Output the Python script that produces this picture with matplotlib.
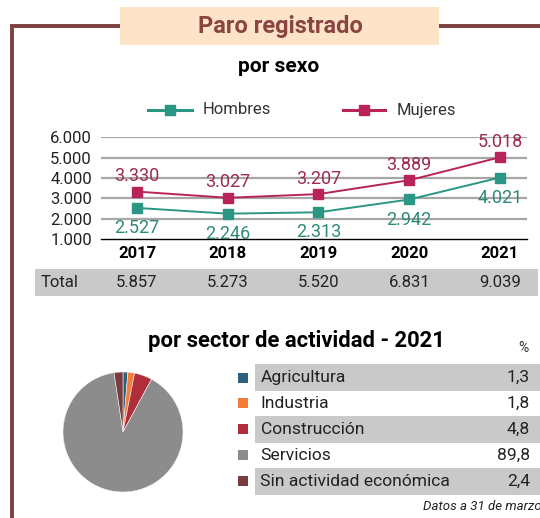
import numpy as np
import matplotlib
matplotlib.use("Agg")
import matplotlib.pyplot as plt
import matplotlib.transforms as mtransforms
from matplotlib.patches import Rectangle

plt.rcParams['font.family'] = ['Roboto', 'DejaVu Sans']

# ---- data ----
years = ['2017', '2018', '2019', '2020', '2021']
hombres = [2527, 2246, 2313, 2942, 4021]
mujeres = [3330, 3027, 3207, 3889, 5018]
totales = ['5.857', '5.273', '5.520', '6.831', '9.039']
y_ticks = [1000, 2000, 3000, 4000, 5000, 6000]

sectores = ['Agricultura', 'Industria', 'Construcción', 'Servicios',
            'Sin actividad económica']
porcentajes = [1.3, 1.8, 4.8, 89.8, 2.4]
sector_colors = ['#2d5f7e', '#f47d3a', '#b02e3a', '#8c8c8c', '#7b3c3f']

teal = '#2a9683'
crimson = '#b8245a'
brown = '#7d3f3f'
W, H = 540, 518


def fmt(v):
    return f"{v:,}".replace(',', '.')


fig = plt.figure(figsize=(W / 100, H / 100), dpi=100)

# background axes in pixel coords (frame, boxes, text)
bg = fig.add_axes([0, 0, 1, 1])
bg.set_xlim(0, W)
bg.set_ylim(H, 0)
bg.axis('off')

# frame
bg.plot([12, 12, 120], [H, 26, 26], color=brown, lw=2.8, solid_capstyle='butt',
        solid_joinstyle='miter')
bg.plot([439, W], [26, 26], color=brown, lw=2.8, solid_capstyle='butt')
bg.add_patch(Rectangle((120, 7), 319, 38, color='#fde4c9', lw=0))
bg.text(280, 26, 'Paro registrado', ha='center', va='center', fontsize=17,
        fontweight='bold', color='#8b4540')
bg.text(279, 67, 'por sexo', ha='center', va='center', fontsize=15,
        fontweight='bold', color='black')

# legend
bg.plot([148, 192], [110, 110], color=teal, lw=2.2)
bg.plot([170], [110], marker='s', ms=7, color=teal)
bg.text(203, 110, 'Hombres', ha='left', va='center', fontsize=12, color='#333333')
bg.plot([343, 385], [110, 110], color=crimson, lw=2.2)
bg.plot([364], [110], marker='s', ms=7, color=crimson)
bg.text(397, 110, 'Mujeres', ha='left', va='center', fontsize=12, color='#333333')

# ---- line chart ----
ax = fig.add_axes([101 / W, 1 - 239 / H, 426 / W, (239 - 137.3) / H])
ax.patch.set_alpha(0)
x = np.arange(len(years))
ax.set_xlim(-0.397, 4.298)
ax.set_ylim(1000, 6000)
for t in y_ticks[1:]:
    ax.axhline(t, color='#a6a6a6', lw=1.6, zorder=0)
for s in ['top', 'right', 'left']:
    ax.spines[s].set_visible(False)
ax.spines['bottom'].set_color('black')
ax.spines['bottom'].set_linewidth(1.0)
ax.set_yticks(y_ticks, [fmt(t) for t in y_ticks], fontsize=12, color='#222222')
ax.set_xticks(x, years, fontsize=12, fontweight='bold')
ax.tick_params(axis='y', length=0, pad=6.5)
ax.tick_params(axis='x', length=0, pad=5)

ax.plot(x, hombres, color=teal, lw=1.4, marker='s', ms=6.8, zorder=3)
ax.plot(x, mujeres, color=crimson, lw=1.4, marker='s', ms=6.8, zorder=3)
for xi, h, m in zip(x, hombres, mujeres):
    ax.annotate(fmt(m), (xi, m), xytext=(0, 11), textcoords='offset points',
                ha='center', va='center', fontsize=13, color='#9c2a52')
    ax.annotate(fmt(h), (xi, h), xytext=(0, -14.5), textcoords='offset points',
                ha='center', va='center', fontsize=13, color='#2e8a78')

# total row
bg.add_patch(Rectangle((35, 269), 503, 27, color='#c9c9c9', lw=0))
bg.text(41, 282.5, 'Total', ha='left', va='center', fontsize=12, color='#222222')
trans = mtransforms.blended_transform_factory(ax.transData, bg.transData)
for xi, tv in zip(x, totales):
    fig.text(xi, 282.5, tv, transform=trans, ha='center', va='center',
             fontsize=12, color='#222222')

# ---- sector section ----
bg.text(296, 341, 'por sector de actividad - 2021', ha='center', va='center',
        fontsize=15.8, fontweight='bold', color='black')
bg.text(523, 348, '%', ha='center', va='center', fontsize=10, color='#333333')

pax = fig.add_axes([63 / W, 1 - 492 / H, 120 / W, 120 / H])
pax.pie(porcentajes, colors=sector_colors, startangle=90, counterclock=False,
        wedgeprops=dict(linewidth=0.4, edgecolor='#f4f4f4'))
pax.set_xlim(-1, 1)
pax.set_ylim(-1, 1)

row_y = [377.5, 403.3, 429.3, 455, 481]
for i, (name, val, col) in enumerate(zip(sectores, porcentajes, sector_colors)):
    yc = row_y[i]
    if i % 2 == 0:
        bg.add_patch(Rectangle((254.5, yc - 13.5), W - 254.5, 27,
                               color='#c9c9c9', lw=0))
    bg.add_patch(Rectangle((238, yc - 5), 10, 10, color=col, lw=0))
    bg.text(260.5, yc, name, ha='left', va='center', fontsize=12.6,
            color='#222222')
    bg.text(530, yc, f"{val:.1f}".replace('.', ','), ha='right', va='center',
            fontsize=12.6, color='#222222')

bg.text(423, 506, 'Datos a 31 de marzo', ha='left', va='center', fontsize=9.5,
        style='italic', color='#222222')

fig.savefig('out.png', dpi=100)
